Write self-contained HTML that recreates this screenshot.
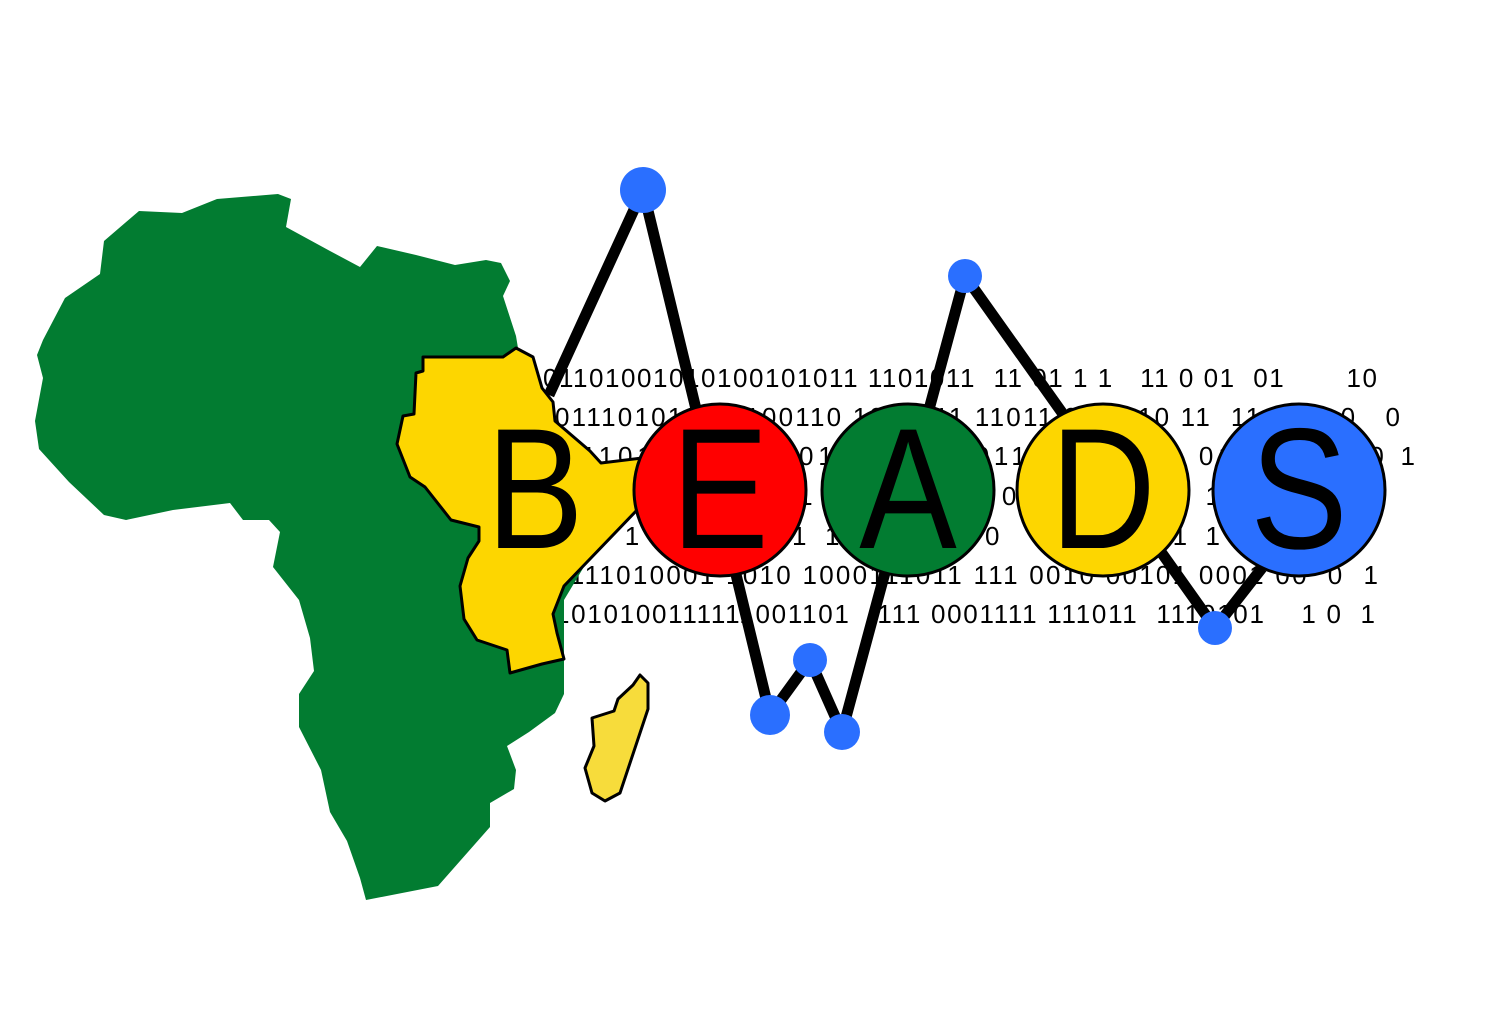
<!DOCTYPE html>
<html><head><meta charset="utf-8"><style>
html,body{margin:0;padding:0;background:#fff;}
svg{display:block;}
.bin{font-family:"Liberation Sans",sans-serif;font-size:26px;fill:#000;white-space:pre;}
.let{font-family:"Liberation Sans",sans-serif;font-size:172px;fill:#000;}
</style></head><body>
<svg width="1500" height="1029" viewBox="0 0 1500 1029" xmlns="http://www.w3.org/2000/svg">
<g>
<text class="bin" x="543" y="387" textLength="834" xml:space="preserve">01101001010100101011 1101011  11 01 1 1   11 0 01  01       10</text>
<text class="bin" x="555" y="426" textLength="845" xml:space="preserve">011101010111100110 1011011 11011 0110 10 11  11 000  0   0</text>
<text class="bin" x="545" y="465" textLength="870" xml:space="preserve">0111011101001 0110 1010 011 10110 01 010  0101 0 1</text>
<text class="bin" x="560" y="505" textLength="660" xml:space="preserve">10 1 110 1 0 1 1 01 1  0 1</text>
<text class="bin" x="555" y="545" textLength="665" xml:space="preserve">1010 1011 1 10 1 1 11</text>
<text class="bin" x="555" y="584" textLength="823" xml:space="preserve">1111010001 1010 1000111011 111 0010 00101 0001 00  0  1</text>
<text class="bin" x="555" y="623" textLength="820" xml:space="preserve">1010100111111001101   111 0001111 111011  1110101    1 0  1</text>
</g>
<polygon fill="#027c31" points="139,211 182,213 217,199 278,194 291,199 286,227 330,251 360,267 377,246 416,255 455,265 486,260 501,263 510,281 503,296 516,336 518,348 540,380 560,440 600,465 640,470 600,540 564,600 564,657 564,694 555,713 529,732 507,746 516,770 514,789 490,803 490,827 438,886 366,900 360,878 347,841 330,812 321,770 299,727 299,694 314,671 310,638 299,600 273,567 280,532 269,520 243,520 230,503 173,510 126,520 104,515 69,482 39,449 35,421 43,378 37,355 43,340 65,298 100,274 104,241"/>
<polygon fill="#fdd600" stroke="#000" stroke-width="3" stroke-linejoin="round" points="423,357 503,357 516,348 533,357 542,388 553,402 555,421 590,451 601,463 642,458 637,510 564,586 553,614 557,633 564,659 542,664 510,673 507,650 477,640 464,619 460,586 468,558 479,541 479,527 451,520 425,487 410,477 397,444 403,416 414,414 416,373 423,371"/>
<polygon fill="#f7dc3b" stroke="#000" stroke-width="3" stroke-linejoin="round" points="640,675 648,683 648,709 620,793 605,801 592,793 585,768 594,746 592,718 614,711 618,699 633,685"/>
<polyline fill="none" stroke="#000" stroke-width="11" stroke-linejoin="miter" points="549,395 643,190 770,715 810,660 842,732 965,276 1215,628 1262,568"/>
<text class="let" transform="translate(535,0) scale(0.85,1)" x="0" y="548" text-anchor="middle">B</text>
<g><circle cx="720" cy="490" r="86" fill="#ff0000" stroke="#000" stroke-width="3"/><text class="let" transform="translate(720,0) scale(0.85,1)" x="0" y="548" text-anchor="middle">E</text></g>
<g><circle cx="908" cy="490" r="86" fill="#027c31" stroke="#000" stroke-width="3"/><text class="let" transform="translate(908,0) scale(0.85,1)" x="0" y="548" text-anchor="middle">A</text></g>
<g><circle cx="1103" cy="490" r="86" fill="#fdd600" stroke="#000" stroke-width="3"/><text class="let" transform="translate(1103,0) scale(0.85,1)" x="0" y="548" text-anchor="middle">D</text></g>
<g><circle cx="1299" cy="490" r="86" fill="#2a6fff" stroke="#000" stroke-width="3"/><text class="let" transform="translate(1299,0) scale(0.85,1)" x="0" y="548" text-anchor="middle">S</text></g>
<g fill="#2a6fff">
<circle cx="643" cy="190" r="23"/>
<circle cx="965" cy="276" r="17"/>
<circle cx="770" cy="715" r="20"/>
<circle cx="810" cy="660" r="17"/>
<circle cx="842" cy="732" r="18"/>
<circle cx="1215" cy="628" r="17"/>
</g>
</svg>
</body></html>
